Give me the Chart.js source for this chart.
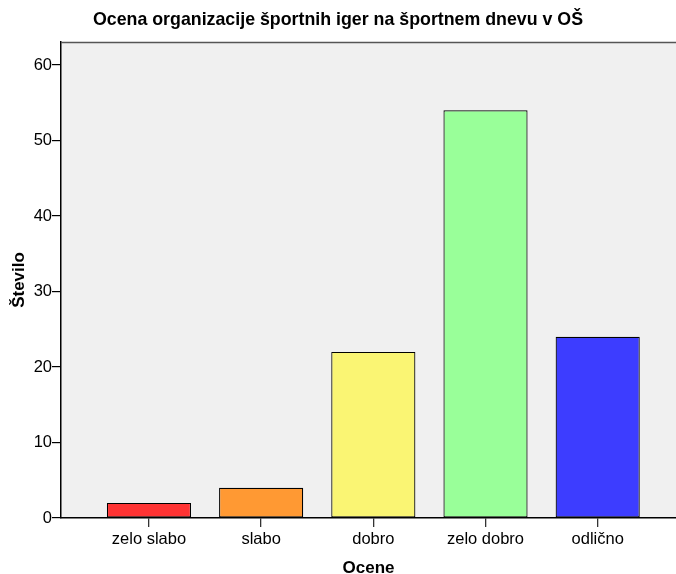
<!DOCTYPE html>
<html>
<head>
<meta charset="utf-8">
<script src="https://cdn.jsdelivr.net/npm/chart.js@4.4.1/dist/chart.umd.min.js"></script>
<style>
html,body{margin:0;padding:0;background:#fff;}
#wrap{width:676px;height:574px;}
</style>
</head>
<body>
<div id="wrap"><canvas id="c" width="676" height="574"></canvas></div>
<script>
const categories = ["zelo slabo", "slabo", "dobro", "zelo dobro", "odlično"];
const counts = [2, 4, 22, 54, 24];
const barColors = ["#FF3333", "#FF9933", "#FAF573", "#99FF99", "#3D3DFF"];
const yTicks = [0, 10, 20, 30, 40, 50, 60];
const titleText = "Ocena organizacije športnih iger na športnem dnevu v OŠ";
const xTitle = "Ocene";
const yTitle = "Število";

const FONT = "'Liberation Sans', Arial, sans-serif";

const plotBg = {
  id: 'plotBg',
  beforeDraw(chart) {
    const {ctx, chartArea: a} = chart;
    ctx.save();
    ctx.fillStyle = '#F0F0F0';
    ctx.fillRect(a.left, a.top, a.right - a.left, a.bottom - a.top);
    ctx.restore();
  },
  afterDraw(chart) {
    const {ctx, chartArea: a} = chart;
    ctx.save();
    ctx.strokeStyle = '#555555';
    ctx.lineWidth = 1.5;
    ctx.beginPath();
    ctx.moveTo(a.left, a.top + 0.5);
    ctx.lineTo(a.right, a.top + 0.5);
    ctx.stroke();
    ctx.restore();
  }
};

new Chart(document.getElementById('c'), {
  type: 'bar',
  data: {
    datasets: [{
      data: counts.map((v, i) => ({x: i, y: v})),
      backgroundColor: barColors,
      borderColor: '#000000',
      borderWidth: 1.2,
      borderSkipped: false,
      categoryPercentage: 1,
      barPercentage: 0.75
    }]
  },
  options: {
    responsive: false,
    animation: false,
    events: [],
    layout: {padding: {left: 0, right: 0, top: 0, bottom: 0}},
    plugins: {
      legend: {display: false},
      tooltip: {enabled: false},
      title: {
        display: true,
        text: titleText,
        color: '#000',
        font: {family: FONT, size: 17.8, weight: 'bold', lineHeight: 1.2},
        padding: {top: 9.3, bottom: 11.3}
      }
    },
    scales: {
      x: {
        type: 'linear',
        offset: false,
        min: -0.784,
        max: 4.698,
        afterBuildTicks(scale) {
          scale.ticks = categories.map((c, i) => ({value: i}));
        },
        afterFit(scale) { scale.height = 56; },
        ticks: {
          autoSkip: false,
          maxRotation: 0,
          color: '#000',
          font: {family: FONT, size: 16.5, lineHeight: 1.2},
          padding: 3,
          callback: (v) => categories[v]
        },
        grid: {display: true, offset: false, drawOnChartArea: false, drawTicks: true, tickLength: 9, color: '#333', lineWidth: 1.3},
        border: {display: true, color: '#000', width: 1.5},
        title: {
          display: true,
          text: xTitle,
          color: '#000',
          font: {family: FONT, size: 17, weight: 'bold', lineHeight: 0.7},
          padding: {top: 0, bottom: 0}
        }
      },
      y: {
        min: 0,
        max: 63.05,
        afterBuildTicks(scale) {
          scale.ticks = yTicks.map(v => ({value: v}));
        },
        afterFit(scale) { scale.width = 61; },
        ticks: {
          color: '#000',
          font: {family: FONT, size: 16.5},
          padding: 0
        },
        grid: {display: true, drawOnChartArea: false, drawTicks: true, tickLength: 9, color: '#000', lineWidth: 1.2},
        border: {display: true, color: '#000', width: 1.5},
        title: {
          display: true,
          text: yTitle,
          color: '#000',
          font: {family: FONT, size: 17, weight: 'bold', lineHeight: 1.2},
          padding: {top: 9, bottom: 0}
        }
      }
    }
  },
  plugins: [plotBg]
});
</script>
</body>
</html>
